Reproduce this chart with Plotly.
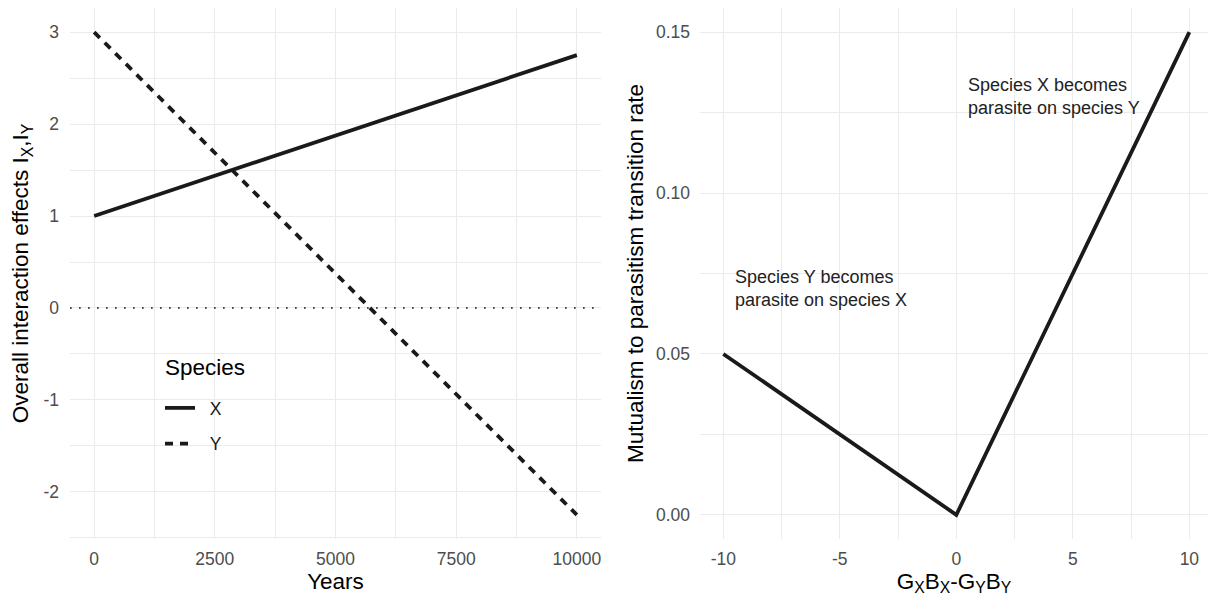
import plotly.graph_objects as go

# Left panel data
years = [0, 10000]
effect_x = [1.0, 2.75]
effect_y = [3.0, -2.25]
left_xticks = [0, 2500, 5000, 7500, 10000]
left_yticks = [-2, -1, 0, 1, 2, 3]

# Right panel data
diff_vals = [-10, 0, 10]
rate_vals = [0.05, 0.0, 0.15]
right_xticks = [-10, -5, 0, 5, 10]
right_yticks = [0.0, 0.05, 0.10, 0.15]

FONT = "Liberation Sans, Arial, Helvetica, sans-serif"
GRID = "#EBEBEB"
TICKC = "#4D4D4D"
LINEC = "#1a1a1a"
TICKSZ = 17.5
TITLESZ = 22.5

fig = go.Figure()

fig.add_trace(go.Scatter(x=years, y=effect_x, mode="lines", name="&nbsp;&nbsp;X",
                         line=dict(color=LINEC, width=3.8),
                         xaxis="x", yaxis="y", legendgroup="a"))
fig.add_trace(go.Scatter(x=years, y=effect_y, mode="lines", name="&nbsp;&nbsp;Y",
                         line=dict(color=LINEC, width=3.8, dash="8px,7px"),
                         xaxis="x", yaxis="y", legendgroup="b"))
fig.add_trace(go.Scatter(x=diff_vals, y=rate_vals, mode="lines", showlegend=False,
                         line=dict(color=LINEC, width=3.8),
                         xaxis="x2", yaxis="y2"))

# dotted zero line across left panel
fig.add_shape(type="line", xref="x domain", yref="y", x0=0, x1=1, y0=0, y1=0,
              line=dict(color=LINEC, width=1.7, dash="1.7px,7.3px"))

common_axis = dict(showline=False, zeroline=False, ticks="", showgrid=True,
                   gridcolor=GRID, gridwidth=1.1,
                   tickfont=dict(family=FONT, size=TICKSZ, color=TICKC),
                   title_font=dict(family=FONT, size=TITLESZ, color="#000000"))

L, T, B = 70, 8, 58
PW = 1208 - L
PH = 597 - T - B

def px(p):
    return (p - L) / PW

def py(p):
    return 1 - (p - T) / PH

fig.update_layout(
    width=1208, height=597,
    margin=dict(l=L, r=0, t=T, b=B),
    paper_bgcolor="white", plot_bgcolor="white",
    font=dict(family=FONT),
    xaxis=dict(domain=[0, px(601)], range=[-500, 10500], tickvals=left_xticks,
               ticktext=[str(v) for v in left_xticks],
               title=dict(text="Years", standoff=4),
               minor=dict(dtick=1250, tick0=0, showgrid=True, gridcolor=GRID, gridwidth=0.7),
               ticklabelstandoff=7, anchor="y", **common_axis),
    yaxis=dict(range=[-2.5125, 3.2625], tickvals=left_yticks,
               ticktext=[str(v) for v in left_yticks],
               title=dict(text="Overall interaction effects I<sub>X</sub>,I<sub>Y</sub>", standoff=8),
               minor=dict(dtick=0.5, tick0=0, showgrid=True, gridcolor=GRID, gridwidth=0.7),
               ticklabelstandoff=10, anchor="x", **common_axis),
    xaxis2=dict(domain=[px(700), 1.0], range=[-11, 10.8], tickvals=right_xticks,
                ticktext=[str(v) for v in right_xticks],
                title=dict(text="G<sub>X</sub>B<sub>X</sub>-G<sub>Y</sub>B<sub>Y</sub>", standoff=4),
                minor=dict(dtick=2.5, tick0=0, showgrid=True, gridcolor=GRID, gridwidth=0.7),
                ticklabelstandoff=7, anchor="y2", **common_axis),
    yaxis2=dict(range=[-0.0075, 0.1575], tickvals=right_yticks,
                ticktext=["%.2f" % v for v in right_yticks],
                title=dict(text="Mutualism to parasitism transition rate", standoff=6),
                minor=dict(dtick=0.025, tick0=0, showgrid=True, gridcolor=GRID, gridwidth=0.7),
                ticklabelstandoff=9, anchor="x2", **common_axis),
    legend=dict(x=px(160), y=py(390), xanchor="left", yanchor="top",
                bgcolor="rgba(0,0,0,0)", tracegroupgap=10,
                font=dict(family=FONT, size=TICKSZ, color="#1a1a1a"),
                itemwidth=30),
    annotations=[
        dict(x=px(163), y=py(367), xref="paper", yref="paper", showarrow=False,
             xanchor="left", yanchor="middle", text="Species",
             font=dict(family=FONT, size=TITLESZ, color="#000000")),
        dict(x=-9.6, y=0.0703, xref="x2", yref="y2", showarrow=False, align="left",
             xanchor="left", yanchor="middle",
             text="Species Y becomes<br>parasite on species X",
             font=dict(family=FONT, size=18, color="#222222")),
        dict(x=0.43, y=0.130, xref="x2", yref="y2", showarrow=False, align="left",
             xanchor="left", yanchor="middle",
             text="Species X becomes<br>parasite on species Y",
             font=dict(family=FONT, size=18, color="#222222")),
    ],
)

fig.write_html("out.html")
